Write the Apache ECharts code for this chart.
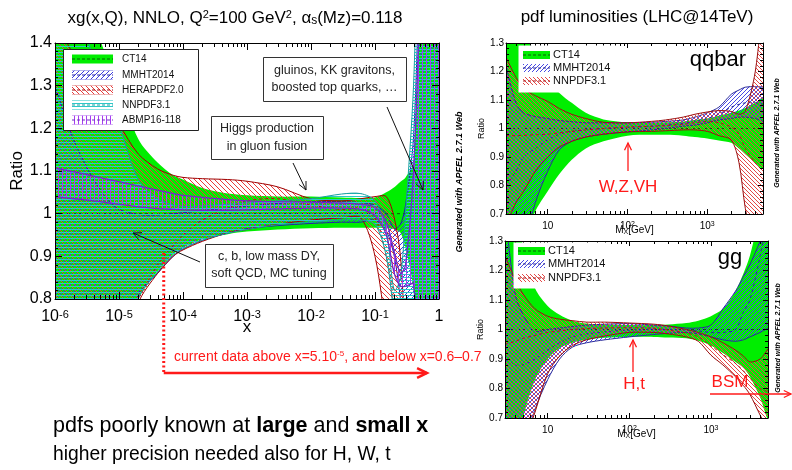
<!DOCTYPE html>
<html>
<head>
<meta charset="utf-8">
<script src="https://cdn.jsdelivr.net/npm/echarts@6/dist/echarts.min.js"></script>
<style>
  html, body { margin: 0; padding: 0; background: #fff; }
  #chart { width: 792px; height: 470px; }
</style>
</head>
<body>
<div id="chart"></div>
<script>
// ---------- gluon ratio to CT14, Q^2 = 100 GeV^2 ----------
const xGrid = [1e-6, 2e-6, 4e-6, 7e-6, 1e-5, 2e-5, 4e-5, 7e-5, 1e-4, 2e-4, 5e-4, 1e-3, 3e-3, 1e-2,
               3e-2, 6e-2, 0.1, 0.15, 0.2, 0.25, 0.3, 0.4, 0.5, 0.6, 0.7, 0.8, 1.0];

const ct14Up  = [2.0, 1.7, 1.46, 1.35, 1.30, 1.175, 1.12, 1.09, 1.08, 1.06, 1.047, 1.043, 1.04, 1.04,
                 1.038, 1.037, 1.038, 1.05, 1.062, 1.075, 1.085, 1.12, 1.5, 2.0, 2.0, 2.0, 2.0];
const ct14Lo  = [0.3, 0.4, 0.5, 0.6, 0.66, 0.8, 0.865, 0.905, 0.92, 0.94, 0.952, 0.958, 0.963, 0.966,
                 0.967, 0.967, 0.967, 0.966, 0.964, 0.955, 0.92, 0.82, 0.55, 0.4, 0.3, 0.3, 0.3];
const ct14Mid = [1, 1, 1, 1, 1, 1, 1, 1, 1, 1, 1, 1, 1, 1, 1, 1, 1, 1, 1, 1, 1, 1, 1, 1, 1, 1, 1];

const mmhtUp  = [1.30, 1.17, 1.08, 1.03, 1.01, 0.998, 0.997, 1.0, 1.002, 1.007, 1.013, 1.018, 1.024, 1.028,
                 1.028, 1.026, 1.02, 1.0, 0.965, 0.975, 1.02, 1.18, 1.6, 2.0, 2.0, 2.0, 2.0];
const mmhtLo  = [0.2, 0.3, 0.4, 0.5, 0.6, 0.81, 0.86, 0.9, 0.917, 0.937, 0.955, 0.965, 0.972, 0.977,
                 0.98, 0.98, 0.985, 0.96, 0.9, 0.8, 0.7, 0.5, 0.3, 0.2, 0.2, 0.2, 0.2];

const heraUp  = [1.45, 1.37, 1.29, 1.25, 1.21, 1.14, 1.105, 1.09, 1.085, 1.082, 1.08, 1.076, 1.063, 1.035,
                 1.03, 1.035, 1.04, 1.04, 0.99, 0.9, 0.7, 0.5, 0.4, 0.4, 0.4, 0.4, 0.4];
const heraLo  = [0.2, 0.3, 0.4, 0.5, 0.6, 0.79, 0.86, 0.9, 0.915, 0.935, 0.955, 0.963, 0.975, 0.985,
                 0.99, 0.99, 0.9, 0.72, 0.55, 0.4, 0.3, 0.3, 0.3, 0.3, 0.3, 0.3, 0.3];
const heraMid = [0.5, 0.55, 0.6, 0.68, 0.72, 0.8, 0.88, 0.925, 0.95, 0.985, 1.013, 1.03, 1.035, 1.02,
                 1.01, 1.012, 0.99, 0.9, 0.78, 0.6, 0.5, 0.4, 0.35, 0.35, 0.35, 0.35, 0.35];

const nnpdfUp = [1.8, 1.55, 1.36, 1.28, 1.21, 1.08, 1.035, 1.02, 1.017, 1.018, 1.022, 1.025, 1.03, 1.035,
                 1.046, 1.047, 1.03, 0.96, 0.82, 0.85, 1.0, 1.3, 1.8, 2.0, 2.0, 2.0, 2.0];
const nnpdfLo = [0.2, 0.3, 0.4, 0.5, 0.6, 0.8, 0.863, 0.903, 0.918, 0.938, 0.954, 0.963, 0.974, 0.98,
                 0.985, 0.985, 0.975, 0.9, 0.75, 0.6, 0.5, 0.3, 0.2, 0.2, 0.2, 0.2, 0.2];

const abmpUp  = [1.107, 1.098, 1.088, 1.08, 1.075, 1.065, 1.055, 1.047, 1.043, 1.038, 1.033, 1.03, 1.028, 1.027,
                 1.025, 1.022, 1.015, 0.98, 0.91, 0.86, 0.88, 1.1, 1.5, 2.0, 2.0, 2.0, 2.0];
const abmpLo  = [1.04, 1.035, 1.03, 1.025, 1.022, 1.016, 1.012, 1.01, 1.009, 1.008, 1.008, 1.009, 1.011, 1.013,
                 1.013, 1.01, 0.995, 0.95, 0.86, 0.83, 0.83, 0.835, 0.6, 0.4, 0.4, 0.4, 0.4];

// ---------- parton luminosities at 14 TeV, ratio to CT14 ----------
const mxGrid = [3, 4, 5, 7, 10, 14, 20, 30, 50, 100, 200, 300, 500, 700, 1000, 1400, 2000, 2500, 3000, 4000, 5000];

const qqCt14Up  = [1.6, 1.5, 1.38, 1.25, 1.17, 1.125, 1.09, 1.055, 1.032, 1.022, 1.02, 1.022, 1.025, 1.03, 1.035, 1.045, 1.055, 1.063, 1.072, 1.09, 1.107];
const qqCt14Lo  = [0.4, 0.5, 0.6, 0.71, 0.78, 0.84, 0.89, 0.93, 0.955, 0.975, 0.978, 0.978, 0.975, 0.97, 0.965, 0.958, 0.95, 0.93, 0.91, 0.88, 0.86];
const qqCt14Mid = [1, 1, 1, 1, 1, 1, 1, 1, 1, 1, 1, 1, 1, 1, 1, 1, 1, 1, 1, 1, 1];
const qqMmhtUp  = [1.22, 1.09, 1.055, 1.042, 1.035, 1.028, 1.024, 1.02, 1.02, 1.02, 1.022, 1.025, 1.03, 1.04, 1.055, 1.075, 1.12, 1.135, 1.145, 1.147, 1.145];
const qqMmhtLo  = [0.3, 0.45, 0.58, 0.74, 0.85, 0.925, 0.955, 0.97, 0.98, 0.988, 0.995, 1.0, 1.008, 1.012, 1.02, 1.03, 1.035, 1.04, 1.04, 1.035, 1.025];
const qqMmhtMid = [0.8, 0.85, 0.9, 0.93, 0.96, 0.98, 0.99, 0.995, 1.0, 1.004, 1.008, 1.012, 1.018, 1.025, 1.035, 1.05, 1.075, 1.085, 1.09, 1.09, 1.085];
const qqNnpdfUp = [1.25, 1.18, 1.14, 1.115, 1.095, 1.07, 1.05, 1.035, 1.022, 1.02, 1.025, 1.03, 1.04, 1.05, 1.058, 1.063, 1.06, 1.05, 1.06, 1.2, 1.45];
const qqNnpdfLo = [0.66, 0.74, 0.78, 0.85, 0.9, 0.935, 0.955, 0.97, 0.98, 0.988, 0.99, 0.992, 0.995, 0.995, 0.99, 0.975, 0.96, 0.88, 0.72, 0.55, 0.4];
const qqNnpdfMid = [0.975, 0.975, 0.976, 0.978, 0.98, 0.985, 0.99, 0.995, 1.0, 1.005, 1.008, 1.01, 1.015, 1.02, 1.025, 1.02, 1.005, 0.98, 0.93, 0.88, 0.85];

const ggCt14Up  = [1.7, 1.45, 1.28, 1.14, 1.08, 1.05, 1.03, 1.02, 1.017, 1.015, 1.015, 1.017, 1.022, 1.03, 1.045, 1.07, 1.13, 1.19, 1.25, 1.4, 1.55];
const ggCt14Lo  = [0.4, 0.55, 0.7, 0.83, 0.9, 0.937, 0.955, 0.965, 0.972, 0.975, 0.975, 0.973, 0.97, 0.962, 0.946, 0.92, 0.89, 0.87, 0.84, 0.77, 0.7];
const ggCt14Mid = [1, 1, 1, 1, 1, 1, 1, 1, 1, 1, 1, 1, 1, 1, 1, 1, 1, 1, 1, 1, 1];
const ggMmhtUp  = [1.4, 1.12, 1.05, 0.995, 1.0, 1.005, 1.01, 1.015, 1.018, 1.02, 1.015, 1.012, 1.005, 1.005, 1.015, 1.07, 1.13, 1.18, 1.22, 1.3, 1.38];
const ggMmhtLo  = [0.4, 0.5, 0.6, 0.73, 0.83, 0.9, 0.94, 0.955, 0.965, 0.975, 0.983, 0.987, 0.99, 0.985, 0.975, 0.965, 0.96, 0.965, 0.975, 0.99, 1.005];
const ggMmhtMid = [0.9, 0.88, 0.88, 0.9, 0.93, 0.955, 0.975, 0.985, 0.992, 0.998, 1.0, 1.0, 0.998, 0.995, 0.99, 0.99, 1.0, 1.06, 1.1, 1.25, 1.4];
const ggNnpdfUp = [1.25, 1.17, 1.12, 1.07, 1.045, 1.035, 1.03, 1.025, 1.025, 1.022, 1.018, 1.012, 1.0, 0.99, 0.975, 0.955, 0.93, 0.91, 0.89, 0.9, 0.935];
const ggNnpdfLo = [0.3, 0.45, 0.6, 0.72, 0.85, 0.91, 0.945, 0.965, 0.978, 0.99, 0.99, 0.985, 0.975, 0.96, 0.913, 0.88, 0.84, 0.81, 0.78, 0.71, 0.66];
const ggNnpdfMid = [0.95, 0.96, 0.97, 0.98, 0.99, 0.995, 1.0, 1.003, 1.005, 1.006, 1.004, 0.998, 0.988, 0.975, 0.945, 0.915, 0.885, 0.86, 0.835, 0.8, 0.79];

// ---------- labels ----------
const mainSetNames  = ['CT14', 'MMHT2014', 'HERAPDF2.0', 'NNPDF3.1', 'ABMP16-118'];
const lumiSetNames  = ['CT14', 'MMHT2014', 'NNPDF3.1'];
const mainTitle     = 'xg(x,Q), NNLO, Q{sup|2}=100 GeV{sup|2}, α{sub|s}(Mz)=0.118';
const lumiTitle     = 'pdf luminosities (LHC@14TeV)';
const dataEdgeX     = 5e-5;

// ---------- styling ----------
const FONT = 'Liberation Sans';
const GREEN = '#00ee00';
const S = 0.3;   // curve smoothing

function hatch(kind, color, step, width) {
  const c = document.createElement('canvas');
  c.width = step; c.height = step;
  const g = c.getContext('2d');
  g.strokeStyle = color; g.fillStyle = color; g.lineWidth = width;
  if (kind === 'h') { g.fillRect(0, Math.floor(step / 2), step, width); }
  else if (kind === 'v') { g.fillRect(Math.floor(step / 2), 0, width, step); }
  else {
    g.beginPath();
    if (kind === '/') {
      g.moveTo(0, step); g.lineTo(step, 0);
      g.moveTo(-1, 1); g.lineTo(1, -1);
      g.moveTo(step - 1, step + 1); g.lineTo(step + 1, step - 1);
    } else {
      g.moveTo(0, 0); g.lineTo(step, step);
      g.moveTo(-1, step - 1); g.lineTo(1, step + 1);
      g.moveTo(step - 1, -1); g.lineTo(step + 1, 1);
    }
    g.stroke();
  }
  return { image: c, repeat: 'repeat' };
}

const PAT = {
  mmht:  hatch('/', '#3a3ae0', 5, 1),
  hera:  hatch('\\', '#e83a3a', 5, 1),
  nnpdf: hatch('h', '#2cc8c8', 3, 1),
  abmp:  hatch('v', '#a63ef0', 4, 1),
  rMmht: hatch('/', '#4848e4', 4, 1),
  rNnpdf: hatch('\\', '#e24848', 4, 1)
};

// one filled band with its edges and dashed central curve
function band(o) {
  const rows = o.xs.map((x, i) => [x, o.lo[i], o.hi[i], o.mid ? o.mid[i] : o.lo[i]]);
  return {
    type: 'custom', name: o.name, xAxisIndex: o.ax, yAxisIndex: o.ay, z: o.z,
    clip: true, silent: true, animation: false,
    data: rows, encode: { x: 0, y: [1, 2] },
    renderItem(params, api) {
      if (params.dataIndex !== 0) return null;
      const up = [], lo = [], mid = [];
      rows.forEach(r => {
        up.push(api.coord([r[0], r[2]]));
        lo.push(api.coord([r[0], r[1]]));
        mid.push(api.coord([r[0], r[3]]));
      });
      const kids = [{
        type: 'polygon', shape: { points: up.concat(lo.slice().reverse()), smooth: S },
        style: { fill: o.fill, stroke: null }
      }];
      if (o.edge) {
        kids.push({ type: 'polyline', shape: { points: up, smooth: S }, style: { stroke: o.edge, lineWidth: o.edgeW || 1, fill: null } });
        kids.push({ type: 'polyline', shape: { points: lo, smooth: S }, style: { stroke: o.edge, lineWidth: o.edgeW || 1, fill: null } });
      }
      if (o.mid) {
        kids.push({ type: 'polyline', shape: { points: mid, smooth: S }, style: { stroke: o.midColor, lineWidth: 1, lineDash: [3, 3], fill: null } });
      }
      return { type: 'group', children: kids };
    }
  };
}

// minor ticks on a log x axis, drawn at bottom and top of the frame
function minorTicks(ax, ay, vals, yMin, yMax, len) {
  return {
    type: 'custom', xAxisIndex: ax, yAxisIndex: ay, z: 30, silent: true, animation: false, clip: false,
    data: vals.map(v => [v, yMin]), encode: { x: 0, y: 1 },
    renderItem(params, api) {
      const x = api.value(0);
      const b = api.coord([x, yMin]), t = api.coord([x, yMax]);
      const px = Math.round(b[0]) + 0.5;
      return { type: 'group', children: [
        { type: 'line', shape: { x1: px, y1: b[1], x2: px, y2: b[1] - len }, style: { stroke: '#000', lineWidth: 1 } },
        { type: 'line', shape: { x1: px, y1: t[1], x2: px, y2: t[1] + len }, style: { stroke: '#000', lineWidth: 1 } }
      ] };
    }
  };
}

const mainMinor = [];
for (let e = -6; e <= -1; e++) for (let m = 2; m <= 9; m++) mainMinor.push(m * Math.pow(10, e));
const lumiMinor = [];
for (let e = 0; e <= 3; e++) for (let m = 2; m <= 9; m++) { const v = m * Math.pow(10, e); if (v > 3 && v < 5000) lumiMinor.push(v); }

function isDecade(v) { const l = Math.log10(v); return Math.abs(l - Math.round(l)) < 1e-6; }

const supRich = (big, small, raise) => ({
  b: { fontSize: big, lineHeight: big, verticalAlign: 'bottom', fontFamily: FONT, color: '#000' },
  s: { fontSize: small, lineHeight: small, verticalAlign: 'top', padding: [0, 0, raise, 0], fontFamily: FONT, color: '#000' }
});

function logX(grid, min, max, pos, showLabels, big, small, formatter, margin) {
  return {
    type: 'log', gridIndex: grid, min, max, position: pos, logBase: 10, z: 20,
    axisLine: { show: true, onZero: false, lineStyle: { color: '#000', width: 1 } },
    axisTick: { show: true, inside: true, length: grid === 0 ? 7 : 5, lineStyle: { color: '#000' } },
    splitLine: { show: false }, minorTick: { show: false },
    axisLabel: { show: showLabels, formatter, rich: supRich(big, small, Math.round(small * 0.7)), margin: margin || 4,
                 showMinLabel: true, showMaxLabel: true }
  };
}

function linY(grid, min, max, pos, showLabels, fontSize, name, nameGap, nameSize) {
  return {
    type: 'value', gridIndex: grid, min, max, interval: 0.1, position: pos, z: 20,
    axisLine: { show: true, onZero: false, lineStyle: { color: '#000', width: 1 } },
    axisTick: { show: true, inside: true, length: grid === 0 ? 7 : 5, lineStyle: { color: '#000' } },
    minorTick: { show: true, splitNumber: 5, length: 3, lineStyle: { color: '#000' } },
    splitLine: { show: false },
    axisLabel: { show: showLabels, fontSize, color: '#000', fontFamily: FONT, margin: grid === 0 ? 3 : 2 },
    name: name || '', nameLocation: 'middle', nameGap: nameGap || 0, nameRotate: 90, nameMoveOverlap: false,
    nameTextStyle: { fontSize: nameSize || 12, color: '#000', fontFamily: FONT }
  };
}

const mainFmt = v => {
  if (!isDecade(v)) return '';
  const e = Math.round(Math.log10(v));
  return e === 0 ? '{b|1}' : '{b|10}{s|' + e + '}';
};
const lumiFmt = v => {
  if (!isDecade(v)) return '';
  const e = Math.round(Math.log10(v));
  return e === 1 ? '{b|10}' : '{b|10}{s|' + e + '}';
};

const mxName = {
  name: 'M{sub|X}[GeV]', nameLocation: 'middle', nameGap: 11, nameMoveOverlap: false,
  nameTextStyle: { fontSize: 10, color: '#000', fontFamily: FONT, rich: { sub: { fontSize: 7, verticalAlign: 'bottom', padding: [4, 0, 0, 0] } } }
};

const xAxes = [
  Object.assign(logX(0, 1e-6, 1, 'bottom', true, 16, 11, mainFmt, 10), {
    name: 'x', nameLocation: 'middle', nameGap: 20, nameMoveOverlap: false,
    nameTextStyle: { fontSize: 17, color: '#000', fontFamily: FONT }
  }),
  logX(0, 1e-6, 1, 'top', false, 16, 11, mainFmt),
  Object.assign(logX(1, 3, 5000, 'bottom', true, 10, 7, lumiFmt, 7), mxName),
  logX(1, 3, 5000, 'top', false, 10, 7, lumiFmt),
  Object.assign(logX(2, 3, 5000, 'bottom', true, 10, 7, lumiFmt, 7), mxName),
  logX(2, 3, 5000, 'top', false, 10, 7, lumiFmt)
];

const yAxes = [
  linY(0, 0.8, 1.4, 'left', true, 16, 'Ratio', 29, 17),
  linY(0, 0.8, 1.4, 'right', false, 16),
  linY(1, 0.7, 1.3, 'left', true, 10, 'Ratio', 20, 9),
  linY(1, 0.7, 1.3, 'right', false, 10),
  linY(2, 0.7, 1.3, 'left', true, 10, 'Ratio', 20, 9),
  linY(2, 0.7, 1.3, 'right', false, 10)
];

const series = [
  band({ name: 'CT14', ax: 0, ay: 0, xs: xGrid, lo: ct14Lo, hi: ct14Up, mid: ct14Mid, fill: GREEN, midColor: '#0a5a0a', z: 2 }),
  band({ name: 'MMHT2014', ax: 0, ay: 0, xs: xGrid, lo: mmhtLo, hi: mmhtUp, fill: PAT.mmht, edge: '#2222a6', z: 3 }),
  band({ name: 'HERAPDF2.0', ax: 0, ay: 0, xs: xGrid, lo: heraLo, hi: heraUp, mid: heraMid, fill: PAT.hera, edge: '#a00000', midColor: '#b01010', z: 4 }),
  band({ name: 'NNPDF3.1', ax: 0, ay: 0, xs: xGrid, lo: nnpdfLo, hi: nnpdfUp, fill: PAT.nnpdf, edge: '#1a9ea0', z: 5 }),
  band({ name: 'ABMP16-118', ax: 0, ay: 0, xs: xGrid, lo: abmpLo, hi: abmpUp, fill: PAT.abmp, edge: '#7028c8', edgeW: 1.3, z: 6 }),

  band({ name: 'CT14', ax: 2, ay: 2, xs: mxGrid, lo: qqCt14Lo, hi: qqCt14Up, mid: qqCt14Mid, fill: GREEN, midColor: '#0a5a0a', z: 2 }),
  band({ name: 'MMHT2014', ax: 2, ay: 2, xs: mxGrid, lo: qqMmhtLo, hi: qqMmhtUp, mid: qqMmhtMid, fill: PAT.rMmht, edge: '#2a2a9a', midColor: '#2a2a9a', z: 3 }),
  band({ name: 'NNPDF3.1', ax: 2, ay: 2, xs: mxGrid, lo: qqNnpdfLo, hi: qqNnpdfUp, mid: qqNnpdfMid, fill: PAT.rNnpdf, edge: '#9a1010', midColor: '#b01818', z: 4 }),

  band({ name: 'CT14', ax: 4, ay: 4, xs: mxGrid, lo: ggCt14Lo, hi: ggCt14Up, mid: ggCt14Mid, fill: GREEN, midColor: '#0a5a0a', z: 2 }),
  band({ name: 'MMHT2014', ax: 4, ay: 4, xs: mxGrid, lo: ggMmhtLo, hi: ggMmhtUp, mid: ggMmhtMid, fill: PAT.rMmht, edge: '#2a2a9a', midColor: '#2a2a9a', z: 3 }),
  band({ name: 'NNPDF3.1', ax: 4, ay: 4, xs: mxGrid, lo: ggNnpdfLo, hi: ggNnpdfUp, mid: ggNnpdfMid, fill: PAT.rNnpdf, edge: '#9a1010', midColor: '#b01818', z: 4 }),

  minorTicks(0, 0, mainMinor, 0.8, 1.4, 4),
  minorTicks(2, 2, lumiMinor, 0.7, 1.3, 3),
  minorTicks(4, 4, lumiMinor, 0.7, 1.3, 3)
];

// ---------- annotation helpers ----------
function txt(x, y, text, font, color, align, extra) {
  const el = {
    type: 'text', x, y,
    style: Object.assign({ text, font, fill: color || '#000', align: align || 'left', verticalAlign: 'middle',
                           textAlign: align || 'left', textVerticalAlign: 'middle' }, (extra && extra.style) || {})
  };
  if (extra && extra.rotation !== undefined) el.rotation = extra.rotation;
  return el;
}
function arrow(x1, y1, x2, y2, color, width, head) {
  const a = Math.atan2(y2 - y1, x2 - x1), s = 0.45;
  const h1 = [x2 - head * Math.cos(a - s), y2 - head * Math.sin(a - s)];
  const h2 = [x2 - head * Math.cos(a + s), y2 - head * Math.sin(a + s)];
  return { type: 'group', children: [
    { type: 'polyline', shape: { points: [[x1, y1], [x2, y2]] }, style: { stroke: color, lineWidth: width, fill: null } },
    { type: 'polyline', shape: { points: [h1, [x2, y2], h2] }, style: { stroke: color, lineWidth: width, fill: null } }
  ] };
}
function box(x, y, w, h, lines, fontSize, lineGap) {
  const kids = [{ type: 'rect', shape: { x: x + 0.5, y: y + 0.5, width: w, height: h }, style: { fill: '#fff', stroke: '#333', lineWidth: 1 } }];
  lines.forEach((t, i) => kids.push(txt(x + w / 2, y + h / 2 + (i - (lines.length - 1) / 2) * lineGap, t, fontSize + 'px ' + FONT, '#222', 'center')));
  return { type: 'group', children: kids };
}
function legend(x, y, w, h, border, entries, swX, swW, swH, textX, rowY, fontSize) {
  const kids = [{ type: 'rect', shape: { x: x + 0.5, y: y + 0.5, width: w, height: h },
                  style: { fill: '#fff', stroke: border ? '#222' : null, lineWidth: 1 } }];
  entries.forEach((e, i) => {
    const cy = rowY[i];
    kids.push({ type: 'rect', shape: { x: swX, y: cy - swH / 2, width: swW, height: swH }, style: { fill: e.fill, stroke: null } });
    if (e.edge) {
      kids.push({ type: 'line', shape: { x1: swX, y1: cy - swH / 2, x2: swX + swW, y2: cy - swH / 2 }, style: { stroke: e.edge, lineWidth: 0.6 } });
      kids.push({ type: 'line', shape: { x1: swX, y1: cy + swH / 2, x2: swX + swW, y2: cy + swH / 2 }, style: { stroke: e.edge, lineWidth: 0.6 } });
    }
    kids.push({ type: 'line', shape: { x1: swX, y1: cy, x2: swX + swW, y2: cy }, style: { stroke: e.dash, lineWidth: 1.2, lineDash: [3, 2] } });
    kids.push(txt(textX, cy, e.name, fontSize + 'px ' + FONT, '#111', 'left'));
  });
  return { type: 'group', children: kids };
}
// keep every annotation element above the plotted bands
function lift(el) {
  el.z = 100;
  if (el.children) el.children.forEach(lift);
  return el;
}

const mainLegend = [
  { name: mainSetNames[0], fill: GREEN, dash: '#0a5a0a' },
  { name: mainSetNames[1], fill: PAT.mmht, dash: '#2222a6', edge: '#8888e0' },
  { name: mainSetNames[2], fill: PAT.hera, dash: '#a00000', edge: '#e08888' },
  { name: mainSetNames[3], fill: PAT.nnpdf, dash: '#1a9ea0', edge: '#88dddd' },
  { name: mainSetNames[4], fill: PAT.abmp, dash: '#7028c8', edge: '#c088f0' }
];
const lumiLegend = [
  { name: lumiSetNames[0], fill: GREEN, dash: '#0a5a0a' },
  { name: lumiSetNames[1], fill: PAT.rMmht, dash: '#2a2a9a' },
  { name: lumiSetNames[2], fill: PAT.rNnpdf, dash: '#b01818' }
];

const chart = echarts.init(document.getElementById('chart'), null, { renderer: 'canvas', width: 792, height: 470 });

chart.setOption({
  backgroundColor: '#fff',
  animation: false,
  textStyle: { fontFamily: FONT },
  grid: [
    { left: 55, top: 43, width: 384, height: 256, containLabel: false, outerBoundsMode: 'none' },
    { left: 506, top: 43, width: 257, height: 171, containLabel: false, outerBoundsMode: 'none' },
    { left: 505, top: 241, width: 263, height: 177, containLabel: false, outerBoundsMode: 'none' }
  ],
  xAxis: xAxes,
  yAxis: yAxes,
  series
});

const edgePx = chart.convertToPixel({ xAxisIndex: 0 }, dataEdgeX);

const graphics = [
  // titles
  txt(235, 18, mainTitle, '17px ' + FONT, '#000', 'center', { style: {
    rich: { sup: { fontSize: 11, verticalAlign: 'top', padding: [0, 0, 7, 0], fontFamily: FONT },
            sub: { fontSize: 12, verticalAlign: 'bottom', padding: [3, 0, 0, 0], fontFamily: FONT } } } }),
  txt(637, 17, lumiTitle, '17px ' + FONT, '#000', 'center'),

  // legends
  legend(63, 49, 135, 81, true, mainLegend, 72, 41, 9, 122, [59, 75, 90, 105, 120], 10),
  legend(518, 45, 100, 47, false, lumiLegend, 523, 27, 8, 553, [55, 68, 81], 11),
  legend(513, 242, 96, 46, false, lumiLegend, 518, 27, 8, 548, [251, 264, 278], 11),

  // main chart notes
  box(263, 57, 143, 44, ['gluinos, KK gravitons,', 'boosted top quarks, …'], 12.5, 17),
  box(211, 116, 112, 43, ['Higgs production', 'in gluon fusion'], 12.5, 18),
  box(205, 244, 128, 43, ['c, b, low mass DY,', 'soft QCD, MC tuning'], 12.5, 17),
  arrow(387, 107, 423, 190, '#111', 1, 9),
  arrow(293, 163, 306, 190, '#111', 1, 9),
  arrow(200, 262, 133, 233, '#111', 1, 9),

  // data coverage marker
  { type: 'line', shape: { x1: edgePx, y1: 253, x2: edgePx, y2: 372 }, style: { stroke: '#ff1a1a', lineWidth: 3, lineDash: [2, 2.5] } },
  arrow(edgePx, 373, 427, 373, '#ff1a1a', 2.5, 11),
  txt(174, 357, 'current data above x=5.10{sup|-5}, and below x=0.6–0.7', '14px ' + FONT, '#ff1a1a', 'left', { style: {
    rich: { sup: { fontSize: 8, verticalAlign: 'top', padding: [0, 0, 5, 0], fill: '#ff1a1a', fontFamily: FONT } } } }),

  // summary lines
  txt(53, 426, 'pdfs poorly known at {bd|large} and {bd|small x}', '21.5px ' + FONT, '#000', 'left', { style: {
    rich: { bd: { fontWeight: 'bold', fontSize: 21.5, fontFamily: FONT } } } }),
  txt(53, 455, 'higher precision needed also for H, W, t', '19.3px ' + FONT, '#000', 'left'),

  // generator stamps
  txt(460, 182, 'Generated with APFEL 2.7.1 Web', 'italic bold 9px ' + FONT, '#000', 'center', { rotation: Math.PI / 2 }),
  txt(777, 133, 'Generated with APFEL 2.7.1 Web', 'italic bold 7px ' + FONT, '#000', 'center', { rotation: Math.PI / 2 }),
  txt(778, 338, 'Generated with APFEL 2.7.1 Web', 'italic bold 7px ' + FONT, '#000', 'center', { rotation: Math.PI / 2 }),

  // channel labels
  txt(718, 60, 'qqbar', '22px ' + FONT, '#000', 'center'),
  txt(730, 258, 'gg', '22px ' + FONT, '#000', 'center'),

  // process markers
  txt(628, 187, 'W,Z,VH', '17px ' + FONT, '#ff1a1a', 'center'),
  arrow(628, 171, 628, 143, '#ff1a1a', 1.3, 8),
  txt(634, 384, 'H,t', '17px ' + FONT, '#ff1a1a', 'center'),
  arrow(633, 372, 633, 340, '#ff1a1a', 1.3, 8),
  txt(730, 382, 'BSM', '17px ' + FONT, '#ff1a1a', 'center'),
  arrow(710, 394, 791, 394, '#ff1a1a', 1.3, 8)
].map(lift);

chart.setOption({ graphic: { elements: graphics } });
</script>
</body>
</html>
